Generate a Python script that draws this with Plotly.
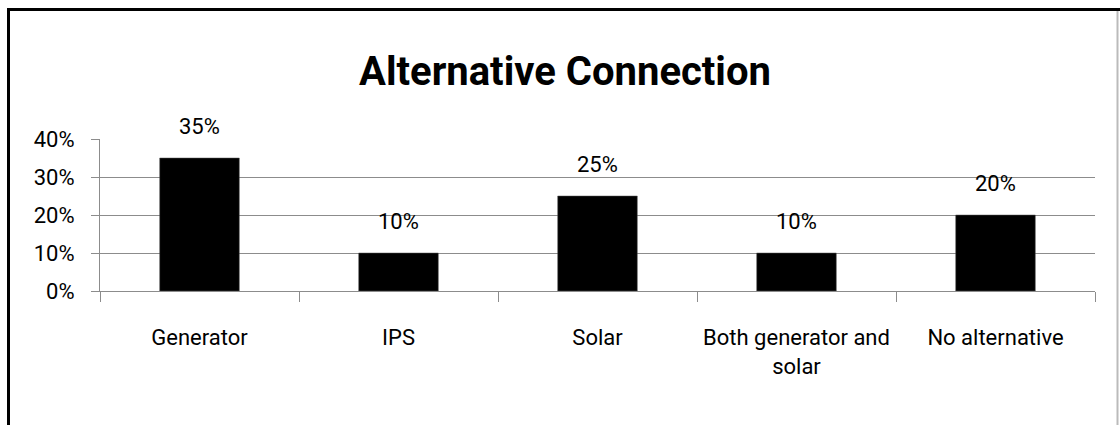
import plotly.graph_objects as go

categories = ["Generator", "IPS", "Solar", "Both generator and<br>solar", "No alternative"]
values = [0.35, 0.10, 0.25, 0.10, 0.20]
labels = ["35%", "10%", "25%", "10%", "20%"]
y_ticks = [0, 0.1, 0.2, 0.3, 0.4]
y_tick_text = ["0%", "10%", "20%", "30%", "40%"]
title = "Alternative Connection"

FONT = "Roboto, Open Sans, sans-serif"
W, H = 1120, 425
L, R, T, B = 100, 25, 139, 134
pw = W - L - R
ph = H - T - B

def px(x):
    return (x - L) / pw

def py(y):
    return (H - B - y) / ph

fig = go.Figure()
fig.add_trace(go.Bar(
    x=categories, y=values,
    marker=dict(color="#000000", line=dict(color="#555555", width=0.5)),
))

for cat, val, lab in zip(categories, values, labels):
    fig.add_annotation(
        x=cat, y=val, text=lab, showarrow=False, yanchor="bottom", yshift=17,
        font=dict(family=FONT, size=22, color="#000000"),
    )

shapes = [
    dict(type="line", xref="paper", yref="paper", x0=px(8.5), x1=px(8.5), y0=py(8), y1=py(430),
         line=dict(color="#000000", width=3)),
    dict(type="line", xref="paper", yref="paper", x0=px(7), x1=px(1121), y0=py(9.5), y1=py(9.5),
         line=dict(color="#000000", width=3)),
    dict(type="line", xref="paper", yref="paper", x0=px(1117.5), x1=px(1117.5), y0=py(11), y1=py(430),
         line=dict(color="#bbbbbb", width=2)),
]

fig.update_layout(
    width=W, height=H,
    margin=dict(l=L, r=R, t=T, b=B, autoexpand=False),
    paper_bgcolor="#ffffff", plot_bgcolor="#ffffff",
    showlegend=False,
    bargap=0.6,
    shapes=shapes,
    title=dict(text="<b>" + title + "</b>", xref="container", x=565 / W, xanchor="center",
               yref="container", y=1 - 71 / H, yanchor="middle",
               font=dict(family=FONT, size=40, color="#000000")),
    xaxis=dict(
        type="category", tickson="boundaries", ticks="outside", ticklen=10, tickcolor="#8c8c8c",
        showline=True, linecolor="#8c8c8c", linewidth=1, showgrid=False, tickangle=0,
        automargin=False, ticklabelstandoff=27,
        tickfont=dict(family=FONT, size=22, color="#000000"),
    ),
    yaxis=dict(
        range=[0, 0.4], tickvals=y_ticks, ticktext=y_tick_text, ticks="outside", ticklen=8,
        tickcolor="#8c8c8c", showline=True, linecolor="#8c8c8c", linewidth=1,
        showgrid=True, gridcolor="#8c8c8c", gridwidth=1, zeroline=False, automargin=False,
        ticklabelstandoff=12,
        tickfont=dict(family=FONT, size=22, color="#000000"),
    ),
)

fig.write_html("out.html", config={"displayModeBar": False},
               post_script="document.body.style.margin='0';document.body.style.overflow='hidden';")
